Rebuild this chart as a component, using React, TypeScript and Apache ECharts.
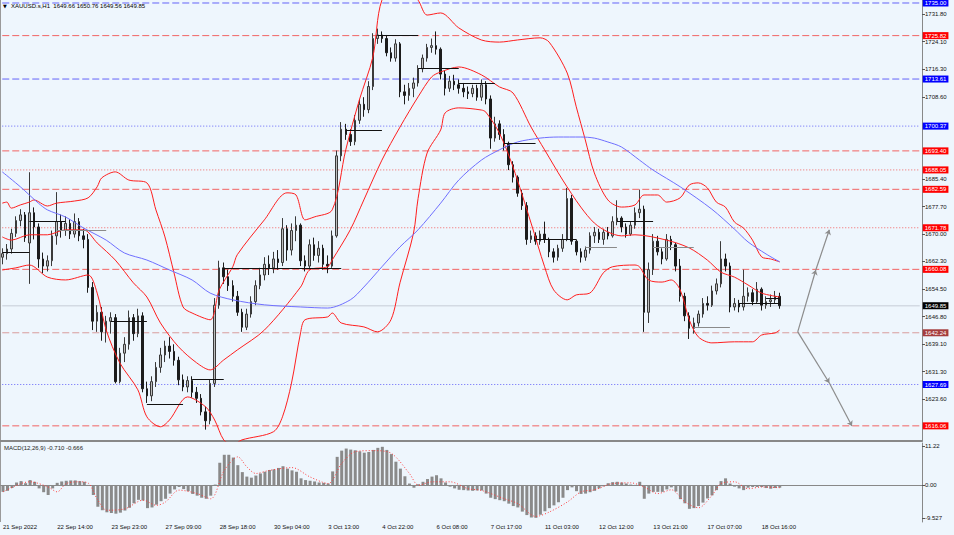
import { useEffect, useRef } from 'react';
import * as echarts from 'echarts';

const FONT = 'Liberation Sans, Arial, sans-serif';

// x axis: one slot per candle, extra empty slots on the right
const slotCount = 204;
const tickLabels = [
  '21 Sep 2022', '22 Sep 14:00', '23 Sep 23:00', '27 Sep 09:00', '28 Sep 18:00',
  '30 Sep 04:00', '3 Oct 13:00', '4 Oct 22:00', '6 Oct 08:00', '7 Oct 17:00',
  '11 Oct 03:00', '12 Oct 12:00', '13 Oct 21:00', '17 Oct 07:00', '18 Oct 16:00'
];

// [open, close, low, high]
const candles = [
  [1663.5, 1664.5, 1661.5, 1666.0], [1664.5, 1665.8, 1662.8, 1667.2], [1665.8, 1670.2, 1664.5, 1671.5],
  [1670.2, 1673.8, 1669.2, 1675.0], [1673.8, 1675.4, 1672.2, 1677.0], [1675.4, 1669.0, 1667.8, 1676.2],
  [1667.5, 1676.0, 1656.0, 1687.4], [1676.0, 1672.0, 1668.5, 1677.5], [1672.0, 1663.0, 1660.5, 1673.0],
  [1663.0, 1661.0, 1659.0, 1664.8], [1661.0, 1662.5, 1659.5, 1664.0], [1662.5, 1669.5, 1661.0, 1671.0],
  [1669.5, 1673.5, 1667.0, 1681.8], [1673.5, 1671.0, 1669.0, 1675.5], [1671.0, 1673.0, 1669.5, 1675.0],
  [1673.0, 1670.0, 1668.6, 1674.2], [1670.0, 1673.5, 1669.0, 1675.8], [1673.5, 1669.5, 1668.0, 1674.5],
  [1669.5, 1668.5, 1666.0, 1671.5], [1668.5, 1655.0, 1653.5, 1670.0], [1655.0, 1645.5, 1643.0, 1656.5],
  [1645.5, 1648.0, 1642.5, 1650.0], [1648.0, 1642.5, 1640.0, 1649.5], [1642.5, 1645.5, 1639.5, 1647.0],
  [1645.5, 1646.5, 1642.0, 1648.0], [1646.5, 1628.5, 1628.0, 1647.5], [1628.5, 1636.5, 1628.0, 1638.0],
  [1636.5, 1639.0, 1634.0, 1641.0], [1639.0, 1646.5, 1637.5, 1648.5], [1646.5, 1642.0, 1640.0, 1647.5],
  [1642.0, 1647.0, 1641.0, 1649.0], [1647.0, 1626.5, 1625.5, 1648.0], [1626.5, 1624.5, 1622.5, 1628.5],
  [1624.5, 1628.5, 1623.0, 1630.0], [1628.5, 1632.5, 1627.0, 1634.0], [1632.5, 1636.0, 1631.0, 1638.0],
  [1636.0, 1638.5, 1634.0, 1640.0], [1638.5, 1637.0, 1635.0, 1641.0], [1637.0, 1634.5, 1633.0, 1639.0],
  [1634.5, 1629.0, 1627.5, 1635.5], [1629.0, 1627.0, 1625.8, 1630.5], [1627.0, 1628.8, 1625.5, 1630.0],
  [1628.8, 1625.5, 1624.0, 1630.0], [1625.5, 1623.8, 1622.5, 1627.0], [1623.8, 1620.0, 1619.0, 1625.0],
  [1620.0, 1617.5, 1615.0, 1621.5], [1617.5, 1628.0, 1616.5, 1629.0], [1628.0, 1650.0, 1627.0, 1652.0],
  [1650.0, 1660.5, 1649.0, 1662.5], [1660.5, 1658.0, 1656.0, 1662.0], [1658.0, 1655.5, 1654.0, 1660.0],
  [1655.5, 1652.5, 1651.0, 1657.0], [1652.5, 1648.0, 1647.0, 1654.0], [1648.0, 1643.8, 1642.5, 1649.0],
  [1643.8, 1647.5, 1643.0, 1649.0], [1647.5, 1651.0, 1646.5, 1652.5], [1651.0, 1655.5, 1650.0, 1657.0],
  [1655.5, 1658.5, 1654.5, 1660.5], [1658.5, 1661.5, 1657.0, 1663.5], [1661.5, 1660.5, 1658.5, 1664.0],
  [1660.5, 1663.0, 1659.0, 1665.0], [1663.0, 1662.0, 1660.0, 1665.5], [1662.0, 1671.5, 1661.0, 1674.5],
  [1671.5, 1665.5, 1662.5, 1672.5], [1665.5, 1671.0, 1664.0, 1673.0], [1671.0, 1672.5, 1668.0, 1675.0],
  [1672.5, 1662.5, 1661.0, 1673.0], [1662.5, 1661.0, 1659.5, 1664.0], [1661.0, 1667.0, 1660.0, 1668.5],
  [1667.0, 1664.0, 1662.5, 1669.0], [1664.0, 1666.0, 1662.0, 1668.0], [1666.0, 1661.5, 1660.0, 1667.0],
  [1661.5, 1661.0, 1659.0, 1664.0], [1661.0, 1669.5, 1660.5, 1671.0], [1669.5, 1692.0, 1669.0, 1693.5],
  [1692.0, 1699.5, 1690.5, 1701.5], [1699.5, 1698.0, 1696.5, 1701.0], [1698.0, 1696.0, 1694.8, 1699.5],
  [1696.0, 1702.0, 1695.0, 1703.5], [1702.0, 1706.5, 1701.0, 1708.0], [1706.5, 1705.0, 1703.0, 1708.5],
  [1705.0, 1711.5, 1704.0, 1713.0], [1711.5, 1725.0, 1710.5, 1726.5], [1725.0, 1726.0, 1723.5, 1727.8],
  [1726.0, 1725.0, 1723.8, 1727.0], [1725.0, 1721.0, 1720.0, 1726.0], [1721.0, 1719.5, 1718.5, 1722.5],
  [1719.5, 1723.5, 1718.5, 1724.8], [1723.5, 1710.0, 1708.5, 1724.0], [1710.0, 1709.0, 1706.5, 1712.0],
  [1709.0, 1711.0, 1707.5, 1712.5], [1711.0, 1712.5, 1708.5, 1714.0], [1712.5, 1716.5, 1711.5, 1717.5],
  [1716.5, 1719.5, 1715.5, 1720.5], [1719.5, 1722.5, 1718.5, 1723.5], [1722.5, 1723.0, 1721.0, 1725.0],
  [1723.0, 1722.0, 1720.5, 1727.0], [1722.0, 1715.0, 1713.5, 1722.5], [1715.0, 1711.0, 1709.0, 1716.0],
  [1711.0, 1713.0, 1710.0, 1714.5], [1713.0, 1712.0, 1710.5, 1714.8], [1712.0, 1711.0, 1709.5, 1713.5],
  [1711.0, 1710.0, 1708.5, 1712.5], [1710.0, 1709.5, 1708.0, 1711.5], [1709.5, 1711.0, 1708.5, 1712.0],
  [1711.0, 1708.5, 1707.5, 1712.0], [1708.5, 1712.0, 1707.5, 1713.5], [1712.0, 1708.0, 1706.5, 1713.0],
  [1708.0, 1697.0, 1694.0, 1709.0], [1697.0, 1701.0, 1696.0, 1703.0], [1701.0, 1698.0, 1696.5, 1702.0],
  [1698.0, 1695.5, 1693.5, 1699.5], [1695.5, 1689.5, 1688.0, 1696.0], [1689.5, 1686.0, 1684.5, 1690.5],
  [1686.0, 1681.5, 1680.5, 1686.5], [1681.5, 1678.0, 1676.8, 1682.5], [1678.0, 1668.5, 1667.0, 1679.0],
  [1668.5, 1669.5, 1667.5, 1671.0], [1669.5, 1668.0, 1667.0, 1670.5], [1668.0, 1670.0, 1667.0, 1671.0],
  [1670.0, 1668.5, 1667.5, 1673.5], [1668.5, 1665.0, 1663.5, 1669.0], [1665.0, 1663.5, 1662.0, 1666.0],
  [1663.5, 1666.0, 1662.5, 1667.0], [1666.0, 1668.5, 1665.0, 1670.0], [1668.5, 1680.0, 1668.0, 1683.0],
  [1680.0, 1668.0, 1667.0, 1681.0], [1668.0, 1665.0, 1664.0, 1668.5], [1665.0, 1663.5, 1662.0, 1666.0],
  [1663.5, 1665.5, 1662.5, 1666.5], [1665.5, 1669.5, 1664.5, 1670.5], [1669.5, 1670.5, 1667.5, 1672.0],
  [1670.5, 1668.5, 1667.5, 1671.5], [1668.5, 1670.5, 1667.0, 1671.5], [1670.5, 1669.5, 1668.5, 1672.0],
  [1669.5, 1673.5, 1669.0, 1675.0], [1673.5, 1674.5, 1672.5, 1679.5], [1674.5, 1672.0, 1670.5, 1675.0],
  [1672.0, 1670.0, 1669.0, 1673.0], [1670.0, 1672.5, 1669.5, 1673.5], [1672.5, 1676.0, 1671.5, 1677.5],
  [1676.0, 1677.0, 1674.5, 1682.5], [1677.0, 1648.0, 1642.5, 1678.0], [1648.0, 1660.0, 1645.0, 1662.0],
  [1660.0, 1668.0, 1658.5, 1670.0], [1668.0, 1665.0, 1664.0, 1669.5], [1665.0, 1663.0, 1661.5, 1666.0],
  [1663.0, 1668.5, 1662.5, 1670.0], [1668.5, 1667.0, 1665.5, 1669.5], [1667.0, 1661.0, 1659.5, 1667.5],
  [1661.0, 1652.5, 1651.0, 1663.0], [1652.5, 1647.0, 1645.5, 1653.5], [1647.0, 1643.5, 1640.5, 1648.0],
  [1643.5, 1645.0, 1642.0, 1646.5], [1645.0, 1647.5, 1644.0, 1648.5], [1647.5, 1650.5, 1646.5, 1652.0],
  [1650.5, 1650.0, 1648.5, 1652.5], [1650.0, 1654.0, 1649.5, 1655.5], [1654.0, 1656.0, 1653.0, 1657.5],
  [1656.0, 1663.0, 1655.0, 1668.0], [1663.0, 1661.0, 1659.5, 1664.5], [1661.0, 1649.5, 1648.0, 1662.0],
  [1649.5, 1650.5, 1648.5, 1652.0], [1650.5, 1649.5, 1648.0, 1651.5], [1649.5, 1652.5, 1648.5, 1660.0],
  [1652.5, 1653.5, 1651.0, 1655.0], [1653.5, 1651.0, 1650.0, 1654.5], [1651.0, 1654.5, 1650.5, 1656.5],
  [1654.5, 1650.0, 1648.5, 1655.0], [1650.0, 1651.0, 1649.0, 1652.5], [1651.0, 1651.5, 1649.5, 1653.0],
  [1651.5, 1652.5, 1650.5, 1654.0], [1652.5, 1649.85, 1649.0, 1653.5]
];

// Bollinger bands and slow moving average, read as [candle index, price]
const bbUpper = [
  [0, 1678.7], [1, 1679.0], [2, 1677.3], [4, 1678.2], [6, 1679.0], [7, 1679.6], [10, 1677.9], [12, 1678.7],
  [16, 1679.3], [19, 1680.2], [21, 1683.3], [22, 1685.8], [25, 1687.5], [28, 1685.2], [32, 1684.4],
  [34, 1676.8], [36, 1669.2], [38, 1659.1], [40, 1649.5], [42, 1647.8], [46, 1645.9], [48, 1654.3],
  [51, 1660.8], [52, 1664.2], [58, 1674.0], [63, 1681.6], [65, 1681.0], [67, 1674.0], [69, 1674.8],
  [73, 1676.8], [76, 1693.7], [79, 1707.7], [82, 1719.8], [84, 1735.8], [88, 1741.0], [92, 1735.8],
  [94, 1731.6], [97, 1732.2], [101, 1728.0], [106, 1724.6], [110, 1724.0], [114, 1724.6], [119, 1725.2],
  [121, 1724.0], [125, 1715.3], [127, 1705.8], [129, 1696.5], [131, 1687.2], [134, 1679.6], [137, 1677.6],
  [140, 1678.2], [142, 1681.0], [145, 1681.0], [147, 1679.0], [150, 1680.2], [152, 1683.8], [154, 1684.4],
  [156, 1683.0], [158, 1679.0], [160, 1677.6], [162, 1673.4], [164, 1671.7], [166, 1668.3], [168, 1663.6],
  [170, 1663.0], [172, 1662.2]
];
const bbMiddle = [
  [0, 1669.2], [2, 1668.3], [6, 1669.8], [10, 1669.8], [14, 1671.2], [18, 1671.2], [21, 1667.5],
  [25, 1662.7], [29, 1656.3], [32, 1652.3], [35, 1645.0], [39, 1638.3], [43, 1633.8], [46, 1631.8],
  [49, 1634.6], [52, 1637.4], [58, 1643.0], [66, 1655.1], [68, 1659.9], [72, 1660.8], [73, 1662.7],
  [77, 1671.2], [80, 1679.6], [84, 1690.8], [88, 1700.1], [92, 1708.6], [95, 1714.2], [97, 1715.6],
  [101, 1717.0], [106, 1714.8], [110, 1711.4], [113, 1709.7], [117, 1700.1], [120, 1693.7], [124, 1685.2],
  [128, 1677.6], [131, 1673.1], [134, 1670.6], [137, 1669.5], [140, 1669.8], [147, 1668.3], [152, 1666.1],
  [156, 1662.7], [159, 1659.3], [162, 1657.9], [165, 1655.7], [168, 1653.4], [172, 1652.3]
];
const bbLower = [
  [0, 1659.9], [3, 1660.5], [6, 1661.3], [10, 1657.9], [14, 1657.1], [19, 1658.5], [21, 1653.4],
  [23, 1643.0], [26, 1633.8], [30, 1626.2], [32, 1618.6], [35, 1615.8], [37, 1617.7], [41, 1624.2],
  [45, 1621.4], [47, 1617.7], [49, 1612.1], [51, 1610.7], [53, 1612.1], [60, 1614.4], [62, 1618.6],
  [64, 1628.1], [66, 1642.2], [67, 1645.9], [72, 1646.7], [73, 1647.8], [75, 1645.0], [80, 1643.9],
  [83, 1642.5], [86, 1645.9], [88, 1656.3], [91, 1670.3], [92, 1680.0], [94, 1692.8], [97, 1699.3],
  [98, 1704.1], [101, 1705.5], [106, 1704.9], [107, 1704.3], [110, 1698.4], [113, 1688.9], [117, 1673.1],
  [120, 1660.8], [122, 1654.3], [125, 1651.5], [127, 1652.9], [130, 1653.4], [133, 1659.1], [135, 1660.8],
  [140, 1661.3], [141, 1660.8], [143, 1657.1], [146, 1656.5], [148, 1657.1], [150, 1654.3], [152, 1645.9],
  [154, 1641.1], [157, 1639.4], [162, 1639.7], [166, 1639.7], [168, 1641.6], [171, 1642.2], [172, 1643.0]
];
const maSlow = [
  [0, 1687.5], [4, 1683.3], [8, 1678.7], [10, 1676.8], [14, 1674.8], [18, 1671.7], [23, 1668.3],
  [27, 1664.7], [32, 1662.7], [37, 1659.9], [42, 1657.1], [46, 1653.4], [51, 1651.5], [58, 1650.1],
  [66, 1649.5], [72, 1649.2], [77, 1651.5], [80, 1655.1], [84, 1660.8], [88, 1666.4], [92, 1671.2],
  [97, 1678.7], [101, 1685.2], [106, 1690.8], [110, 1693.7], [114, 1695.9], [119, 1697.0], [123, 1697.3],
  [128, 1697.3], [131, 1697.0], [134, 1695.9], [137, 1694.5], [141, 1690.8], [144, 1688.0], [150, 1683.3],
  [157, 1677.0], [162, 1671.4], [165, 1667.8], [169, 1664.4], [172, 1662.2]
];

// MACD(12,26,9)
const macdHist = [
  -1.9, -1.6, -0.8, 0.8, 1.2, 0.6, 1.5, 1.0, -0.9, -2.0,
  -2.8, -0.9, 0.7, 1.1, 1.3, 1.4, 1.4, 1.2, 1.0, 0.1,
  -2.8, -6.2, -7.2, -7.8, -8.0, -8.2, -7.9, -7.3, -6.5, -5.2,
  -4.2, -4.4, -6.6, -6.4, -5.6, -4.6, -3.9, -2.4, -1.2, -0.5,
  -1.1, -1.7, -2.5, -3.0, -3.6, -3.9, -3.0, 0.2, 6.5, 8.8,
  8.8, 8.0, 5.8, 3.8, 2.5, 2.2, 2.8, 3.4, 3.9, 4.4,
  4.6, 5.0, 5.5, 4.8, 4.3, 3.9, 2.0, 1.5, 1.3, 1.1,
  0.8, 0.7, 0.5, 4.0, 8.2, 10.0, 10.6, 10.3, 10.1, 9.8,
  9.4, 9.6, 10.2, 10.8, 11.1, 10.2, 9.0, 6.8, 4.8, 2.6,
  0.5, -0.7, 0.3, 1.0, 1.8, 2.5, 2.9, 2.0, 0.8, -0.4,
  -0.9, -1.3, -1.4, -1.5, -1.6, -1.5, -1.5, -2.4, -3.6, -4.0,
  -4.3, -4.6, -5.3, -6.0, -6.4, -7.6, -8.6, -9.3, -9.4, -8.5,
  -7.5, -6.6, -5.8, -4.9, -3.6, -1.4, -0.6, -1.7, -2.5, -2.4,
  -2.0, -1.6, -0.9, -0.3, 0.6, 0.9, 1.0, 0.8, 0.5, 0.2,
  0.1, 1.0, -3.9, -2.4, -1.9, -1.9, -1.9, -1.2, -0.6, -1.8,
  -4.0, -5.2, -6.8, -6.6, -6.0, -5.0, -3.8, -2.9, -1.4, 1.2,
  2.0, 0.5, -0.4, -0.9, -1.4, -0.7, -0.5, -0.5, -0.5, -0.8,
  -1.0, -0.8, -0.7
];
const macdSignal = [
  [0, -1.9], [4, 0.5], [6, 1.0], [10, -0.5], [12, -1.9], [14, 0.5], [17, 1.0], [19, 0.5], [21, -4.3],
  [23, -7.2], [27, -6.8], [31, -4.3], [34, -5.8], [36, -4.8], [39, -1.4], [43, -2.4], [46, -3.9],
  [49, 4.3], [52, 8.2], [54, 5.3], [56, 3.4], [59, 4.3], [64, 5.1], [68, 2.4], [72, 0.5], [75, 6.3],
  [78, 9.7], [82, 10.0], [86, 9.2], [90, 3.4], [92, 0], [95, 1.0], [99, 1.0], [103, -1.0], [106, -1.5],
  [111, -3.9], [114, -5.3], [118, -9.0], [121, -7.7], [125, -4.8], [128, -1.9], [131, -1.3], [135, 0.5],
  [139, 0.7], [142, -0.5], [145, -2.4], [148, -1.3], [151, -4.8], [154, -6.5], [157, -2.9], [159, 0.5],
  [162, 1.0], [165, -1.0], [168, -0.5], [172, -0.7]
];

// price axis
const priceTicks = [1731.8, 1724.1, 1716.3, 1708.6, 1685.4, 1677.7, 1670.0, 1662.3, 1654.5, 1646.8, 1639.1, 1631.3, 1623.6];
const macdTicks = [11.22, 0, -9.527];
const macdTickText = ['11.22', '0.00', '-9.527'];

// horizontal levels
const blueDashed = [1735.0, 1713.61];
const blueDotted = [1700.37, 1627.69];
const redDashed = [1725.82, 1693.4, 1682.59, 1660.08, 1616.06];
const redDotted = [1688.05, 1671.78];
const pivotLevel = [1642.24];
const lastClose = [1649.85];

// short support/resistance segments: [from index, to index, price]
const blackSegments = [
  [0, 6, 1665.0], [6, 14, 1673.7], [24, 32, 1645.6], [32, 40, 1622.2], [42, 49, 1629.3],
  [49, 75, 1660.5], [76, 84, 1699.3], [83, 92, 1726.0], [92, 101, 1716.7], [101, 109, 1712.5],
  [111, 118, 1695.6], [118, 127, 1668.6], [136, 144, 1673.7], [163, 172, 1650.6], [169, 172, 1652.0]
];
const greySegments = [
  [12, 23, 1671.2], [129, 136, 1666.4], [144, 153, 1666.4], [153, 161, 1643.9]
];

// projected paths: [[index, price], [index, price]]
const arrows = [
  [[176, 1642.5], [180, 1659.9]], [[180, 1659.9], [183, 1671.2]],
  [[176, 1642.5], [183, 1628.1]], [[183, 1628.1], [188, 1616.0]]
];

const DASH = [7, 3];
const DOT = [1, 2];

// a price level drawn as a flat line series across the whole axis,
// with its price tag as an end label
const levelSeries = (values: number[], line: string, tag: string, type: any, width = 1) =>
  values.map((v) => ({
    type: 'line',
    xAxisIndex: 0,
    yAxisIndex: 0,
    data: [[0, v], [slotCount - 1, v]],
    showSymbol: false,
    silent: true,
    z: 1,
    lineStyle: { color: line, type, width },
    endLabel: {
      show: true,
      distance: 3,
      formatter: v.toFixed(2),
      color: '#fff',
      backgroundColor: tag,
      fontSize: 6,
      fontFamily: FONT,
      lineHeight: 6,
      padding: [1, 2, 0, 2]
    }
  }));

const segment = (s: number[], color: string) => [
  { coord: [s[0], s[2]], lineStyle: { color, width: 1, type: 'solid' } },
  { coord: [s[1], s[2]] }
];

export default function App() {
  const chartRef = useRef<HTMLDivElement>(null);

  useEffect(() => {
    if (!chartRef.current) return;
    const chart = echarts.init(chartRef.current, null, { renderer: 'svg' });

    const slots = Array.from({ length: slotCount }, (_, i) => String(i));

    const option = {
      animation: false,
      backgroundColor: '#eef6fd',
      textStyle: { fontFamily: FONT },
      grid: [
        { left: 0, right: 32, top: 0, height: 441 },
        { left: 0, right: 32, top: 443, height: 79 }
      ],
      xAxis: [
        {
          type: 'category',
          gridIndex: 0,
          data: slots,
          boundaryGap: true,
          axisLabel: { show: false },
          axisTick: { show: false },
          axisLine: { show: true, lineStyle: { color: '#888', width: 2 } },
          splitLine: { show: false }
        },
        {
          type: 'category',
          gridIndex: 1,
          data: slots,
          boundaryGap: true,
          axisLabel: {
            interval: 11,
            align: 'left',
            margin: 2,
            fontSize: 6,
            color: '#111',
            fontFamily: FONT,
            formatter: (_v: string, i: number) => tickLabels[i / 12] ?? ''
          },
          axisTick: { interval: 11, alignWithLabel: true, length: 3, lineStyle: { color: '#555' } },
          axisLine: { show: true, lineStyle: { color: '#888' } },
          splitLine: { show: false }
        }
      ],
      yAxis: [
        {
          type: 'value',
          gridIndex: 0,
          position: 'right',
          min: 1611.8,
          max: 1735.84,
          splitLine: { show: false },
          axisLine: { show: true, lineStyle: { color: '#888' } },
          axisTick: { show: true, length: 3, customValues: priceTicks, lineStyle: { color: '#555' } },
          axisLabel: {
            customValues: priceTicks,
            margin: 3,
            fontSize: 6,
            color: '#111',
            fontFamily: FONT,
            formatter: (v: number) => v.toFixed(2)
          }
        },
        {
          type: 'value',
          gridIndex: 1,
          position: 'right',
          min: -10.6,
          max: 12.2,
          splitLine: { show: false },
          axisLine: { show: true, lineStyle: { color: '#888' } },
          axisTick: { show: true, length: 3, customValues: macdTicks, lineStyle: { color: '#555' } },
          axisLabel: {
            customValues: macdTicks,
            margin: 3,
            fontSize: 6,
            color: '#111',
            fontFamily: FONT,
            formatter: (v: number) => macdTickText[macdTicks.indexOf(v)] ?? ''
          }
        }
      ],
      graphic: [
        { type: 'line', shape: { x1: 0.5, y1: 0, x2: 0.5, y2: 522 }, style: { stroke: '#9a9a9a', lineWidth: 1 } },
        { type: 'text', x: 3, y: 3, style: { text: '▼', fontSize: 5, fill: '#000', fontFamily: 'DejaVu Sans' } },
        {
          type: 'text',
          x: 11,
          y: 3,
          style: { text: 'XAUUSD.s,H1  1649.66 1650.76 1649.56 1649.85', fontSize: 6, fill: '#000', fontFamily: FONT }
        },
        {
          type: 'text',
          x: 4,
          y: 445,
          style: { text: 'MACD(12,26,9) -0.710 -0.666', fontSize: 6, fill: '#222', fontFamily: FONT }
        }
      ],
      series: [
        ...levelSeries(lastClose, '#d3dae3', '#000000', 'solid', 1.5),
        ...levelSeries(blueDashed, '#6464f8', '#0000ff', DASH),
        ...levelSeries(blueDotted, '#6464f8', '#0000ff', DOT),
        ...levelSeries(redDashed, '#f26464', '#ff0000', DASH),
        ...levelSeries(redDotted, '#f26464', '#ff0000', DOT),
        ...levelSeries(pivotLevel, '#d89c9c', '#a53c3c', DASH),
        {
          name: 'XAUUSD',
          type: 'candlestick',
          xAxisIndex: 0,
          yAxisIndex: 0,
          data: candles,
          barWidth: 2,
          itemStyle: {
            color: '#bdbdbd',
            color0: '#1c1c1c',
            borderColor: '#3a3a3a',
            borderColor0: '#1c1c1c',
            borderWidth: 1
          }
        },
        {
          name: 'BB upper',
          type: 'line',
          xAxisIndex: 0,
          yAxisIndex: 0,
          data: bbUpper,
          showSymbol: false,
          smooth: 0.3,
          lineStyle: { color: '#ff1e1e', width: 1 }
        },
        {
          name: 'BB middle',
          type: 'line',
          xAxisIndex: 0,
          yAxisIndex: 0,
          data: bbMiddle,
          showSymbol: false,
          smooth: 0.3,
          lineStyle: { color: '#ff1e1e', width: 1 }
        },
        {
          name: 'BB lower',
          type: 'line',
          xAxisIndex: 0,
          yAxisIndex: 0,
          data: bbLower,
          showSymbol: false,
          smooth: 0.3,
          lineStyle: { color: '#ff1e1e', width: 1 }
        },
        {
          name: 'MA',
          type: 'line',
          xAxisIndex: 0,
          yAxisIndex: 0,
          data: maSlow,
          showSymbol: false,
          smooth: 0.3,
          lineStyle: { color: '#6f6fff', width: 1 },
          markLine: {
            silent: true,
            symbol: ['none', 'none'],
            label: { show: false },
            data: [
              ...blackSegments.map((s) => segment(s, '#111')),
              ...greySegments.map((s) => segment(s, '#8a8a8a'))
            ]
          }
        },
        {
          name: 'Projection',
          type: 'lines',
          coordinateSystem: 'cartesian2d',
          xAxisIndex: 0,
          yAxisIndex: 0,
          symbol: ['none', 'arrow'],
          symbolSize: 5,
          lineStyle: { color: '#8c8c8c', width: 1.2, opacity: 1 },
          data: arrows.map((c) => ({ coords: c }))
        },
        {
          name: 'MACD',
          type: 'bar',
          xAxisIndex: 1,
          yAxisIndex: 1,
          data: macdHist,
          barWidth: 3,
          itemStyle: { color: '#8a8a8a' }
        },
        {
          name: 'Signal',
          type: 'line',
          xAxisIndex: 1,
          yAxisIndex: 1,
          data: macdSignal,
          showSymbol: false,
          smooth: 0.3,
          lineStyle: { color: '#ff3c3c', width: 1, type: DOT }
        }
      ]
    };

    chart.setOption(option as any);

    const handleResize = () => chart.resize();
    window.addEventListener('resize', handleResize);

    return () => {
      window.removeEventListener('resize', handleResize);
      chart.dispose();
    };
  }, []);

  return <div ref={chartRef} style={{ position: 'fixed', left: 0, top: 0, width: 954, height: 535 }} />;
}
